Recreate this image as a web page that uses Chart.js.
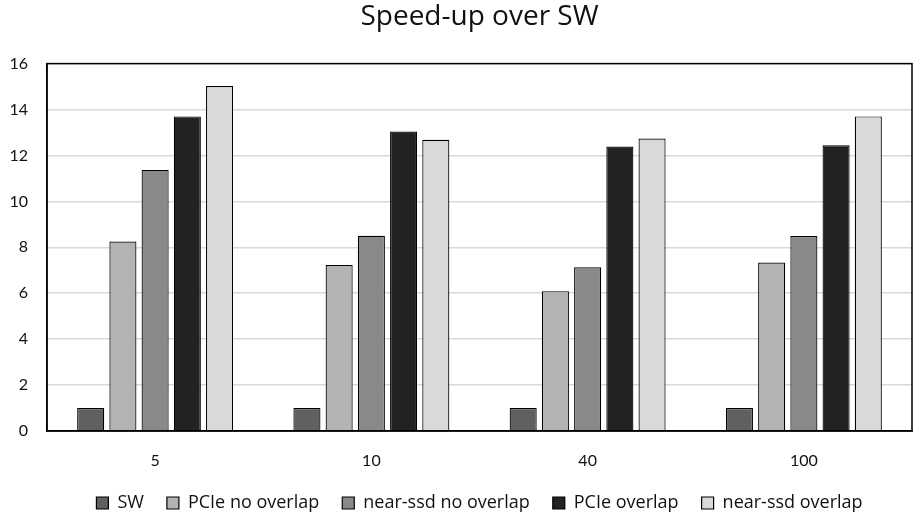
<!DOCTYPE html>
<html>
<head>
<meta charset="utf-8">
<script src="https://cdn.jsdelivr.net/npm/chart.js@4.4.1/dist/chart.umd.min.js"></script>
<style>
  html, body { margin: 0; padding: 0; background: #fff; }
  #wrap { width: 915px; height: 518px; }
</style>
</head>
<body>
<div id="wrap"><canvas id="myChart"></canvas></div>
<script>
// Categories and values
let sizes = ['5', '10', '40', '100'];
let sw = [1, 1, 1, 1];
let pcieNoOverlap = [8.25, 7.23, 6.09, 7.34];
let nearSsdNoOverlap = [11.37, 8.5, 7.13, 8.49];
let pcieOverlap = [13.7, 13.04, 12.39, 12.44];
let nearSsdOverlap = [15.02, 12.68, 12.74, 13.7];

// Box around the plot area (top and right sides)
const frame = {
    id: 'frame',
    afterDraw(chart) {
        const a = chart.chartArea;
        const ctx = chart.ctx;
        ctx.save();
        ctx.strokeStyle = '#000';
        ctx.lineWidth = 1.5;
        ctx.strokeRect(a.left, a.top, a.right - a.left, a.bottom - a.top);
        ctx.restore();
    }
};

function series(label, color, values) {
    return {
        label: label,
        backgroundColor: color,
        borderColor: '#000',
        borderWidth: 1.2,
        data: values,
        barPercentage: 0.84,
        categoryPercentage: 0.745
    };
}

let data = {
    labels: sizes,
    datasets: [
        series('SW', '#606060', sw),
        series('PCIe no overlap', '#b3b3b3', pcieNoOverlap),
        series('near-ssd no overlap', '#898989', nearSsdNoOverlap),
        series('PCIe overlap', '#222222', pcieOverlap),
        series('near-ssd overlap', '#d9d9d9', nearSsdOverlap)
    ]
};

const config = {
    type: 'bar',
    data: data,
    options: {
        responsive: true,
        maintainAspectRatio: false,
        animation: false,
        layout: { padding: { left: 0, right: 3, top: 0, bottom: -4 } },
        plugins: {
            title: {
                display: true,
                fullSize: false,
                text: 'Speed-up over SW',
                color: '#111',
                font: { family: 'Open Sans', size: 28, weight: 'normal' },
                padding: { top: 0, bottom: 30 }
            },
            legend: {
                position: 'bottom',
                fullSize: false,
                labels: {
                    color: '#111',
                    font: { family: 'Open Sans', size: 18 },
                    boxWidth: 12,
                    boxHeight: 12,
                    padding: 23
                }
            },
            tooltip: { enabled: false }
        },
        scales: {
            x: {
                afterFit: (scale) => { scale.height = 40; },
                grid: { display: false, drawTicks: false },
                border: { color: '#000', width: 1.5 },
                ticks: {
                    color: '#111',
                    font: { family: 'Lato', size: 16 },
                    padding: 20
                }
            },
            y: {
                min: 0,
                max: 16,
                afterFit: (scale) => { scale.width = 47; },
                grid: { color: '#d9d9d9', lineWidth: 1.5, drawTicks: false },
                border: { color: '#000', width: 1.5 },
                ticks: {
                    stepSize: 2,
                    color: '#111',
                    font: { family: 'Lato', size: 16 },
                    padding: 19
                }
            }
        }
    },
    plugins: [frame]
};

const theChart = new Chart(document.getElementById('myChart').getContext('2d'), config);
</script>
</body>
</html>
